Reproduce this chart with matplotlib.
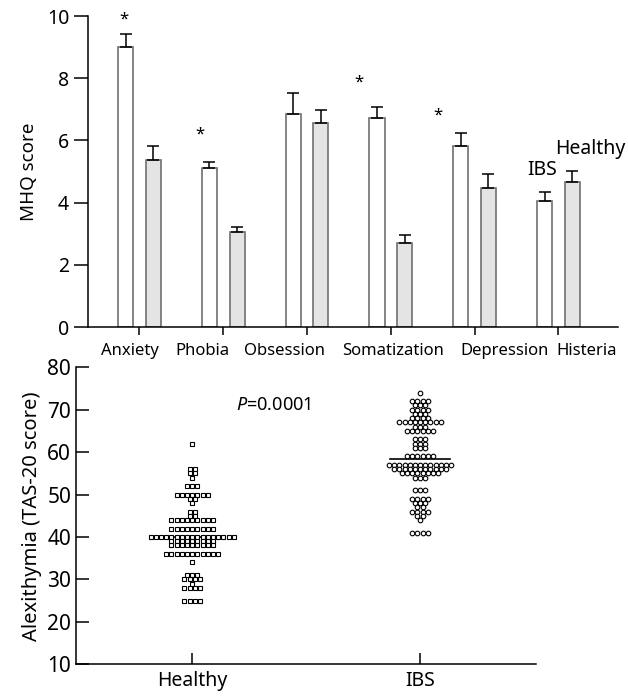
import numpy as np
import matplotlib
matplotlib.use("Agg")
import matplotlib.pyplot as plt

plt.rcParams['font.family'] = ['Noto Sans', 'DejaVu Sans']
plt.rcParams['mathtext.fontset'] = 'custom'
plt.rcParams['mathtext.it'] = 'Noto Sans:italic'
plt.rcParams['mathtext.rm'] = 'Noto Sans'

# top chart: MHQ subscales, IBS (white) vs healthy (grey)
scales = ['Anxiety', 'Phobia', 'Obsession', 'Somatization', 'Depression', 'Histeria']
ibs_mean = [9.0, 5.1, 6.84, 6.72, 5.82, 4.07]
ibs_err = [0.43, 0.22, 0.69, 0.36, 0.41, 0.29]
healthy_mean = [5.38, 3.05, 6.57, 2.69, 4.48, 4.65]
healthy_err = [0.43, 0.17, 0.40, 0.28, 0.43, 0.37]
star_y = [9.9, 6.2, None, 7.85, 6.8, None]

# bottom chart: TAS-20 scores, value -> number of subjects
healthy_vals = [62, 56, 55, 54, 52, 50, 49, 48, 46, 45, 44, 42, 40, 39, 38, 36, 34, 31, 30, 29, 28, 25]
healthy_counts = [1, 2, 2, 1, 3, 7, 2, 1, 2, 2, 9, 9, 17, 9, 9, 11, 1, 3, 4, 1, 4, 4]
ibs_vals = [74, 72, 71, 70, 69, 68, 67, 66, 65, 63, 62, 61, 59, 57, 56, 55, 54, 51, 49, 48, 47, 46, 45, 44, 41]
ibs_counts = [1, 4, 3, 4, 3, 4, 9, 3, 6, 3, 3, 3, 6, 13, 11, 8, 3, 3, 4, 3, 2, 4, 2, 1, 4]
group_names = ['Healthy', 'IBS']
group_line = [40.0, 58.4]

fig = plt.figure(figsize=(6.28, 6.99), dpi=100)

# ---- top: bar chart
ax1 = fig.add_axes([0.140, 0.532, 0.844, 0.445])
x = np.arange(len(scales))
w = 0.18
off = 0.165
ax1.bar(x - off, ibs_mean, w, color='white', edgecolor='#707070', linewidth=1.2, zorder=2)
ax1.bar(x + off, healthy_mean, w, color='#e4e4e4', edgecolor='#707070', linewidth=1.2, zorder=2)
ax1.errorbar(x - off, ibs_mean, yerr=[np.zeros(len(x)), ibs_err], fmt='none',
             ecolor='black', elinewidth=1.1, capsize=4, capthick=1.1, zorder=3)
ax1.errorbar(x + off, healthy_mean, yerr=[np.zeros(len(x)), healthy_err], fmt='none',
             ecolor='black', elinewidth=1.1, capsize=4, capthick=1.1, zorder=3)
star_dx = [-0.02, -0.11, 0, -0.22, -0.27, 0]
for i, sy in enumerate(star_y):
    if sy is not None:
        ax1.text(x[i] - off + star_dx[i], sy, '*', ha='center', va='center', fontsize=12)
ax1.text(4.81, 5.05, 'IBS', ha='center', va='center', fontsize=14)
ax1.text(5.38, 5.73, 'Healthy', ha='center', va='center', fontsize=14)

ax1.set_xlim(-0.615, 5.71)
ax1.set_ylim(0, 10)
ax1.set_yticks([0, 2, 4, 6, 8, 10])
ax1.set_xticks(x)
ax1.set_xticklabels([])
# category names are spread out under the axis, not exactly under the ticks
label_dx = [-0.11, -0.25, -0.27, 0.03, 0.355, 0.335]
for i, name in enumerate(scales):
    ax1.text(x[i] + label_dx[i], -0.05, name, transform=ax1.get_xaxis_transform(),
             ha='center', va='top', fontsize=12)
ax1.tick_params(axis='y', labelsize=14, length=10, width=1.1, direction='out')
ax1.tick_params(axis='x', length=6, width=1.1, direction='out')
ax1.set_ylabel('MHQ score', fontsize=13.5, labelpad=6)
for s in ['top', 'right']:
    ax1.spines[s].set_visible(False)
for s in ['left', 'bottom']:
    ax1.spines[s].set_linewidth(1.1)

# ---- bottom: dot plot
ax2 = fig.add_axes([0.121, 0.0496, 0.733, 0.425])
step = 0.0228
groups = [(healthy_vals, healthy_counts, 's'), (ibs_vals, ibs_counts, 'o')]
for gi, (vals, counts, mk) in enumerate(groups):
    xs, ys = [], []
    for v, n in zip(vals, counts):
        xs.extend(gi + (np.arange(n) - (n - 1) / 2) * step)
        ys.extend([v] * n)
    ax2.plot(xs, ys, linestyle='none', marker=mk, markersize=3.3,
             markerfacecolor='white', markeredgecolor='black', markeredgewidth=0.8, zorder=3)
    ax2.plot([gi - 0.13, gi + 0.13], [group_line[gi], group_line[gi]], color='black', lw=1.2, zorder=2)

ax2.text(0.355, 71.2, '$P$=0.0001', ha='center', va='center', fontsize=13)
ax2.set_xlim(-0.51, 1.51)
ax2.set_ylim(10, 80)
ax2.set_yticks(np.arange(10, 81, 10))
ax2.set_xticks([0, 1])
ax2.set_xticklabels(group_names, fontsize=14)
ax2.tick_params(axis='y', labelsize=15, length=9, width=1.1, direction='in')
ax2.tick_params(axis='x', length=8, width=1.1, direction='in', pad=5)
ax2.set_ylabel('Alexithymia (TAS-20 score)', fontsize=14.5, labelpad=4)
for s in ['top', 'right']:
    ax2.spines[s].set_visible(False)
for s in ['left', 'bottom']:
    ax2.spines[s].set_linewidth(1.1)

fig.savefig('out.png', dpi=100)
